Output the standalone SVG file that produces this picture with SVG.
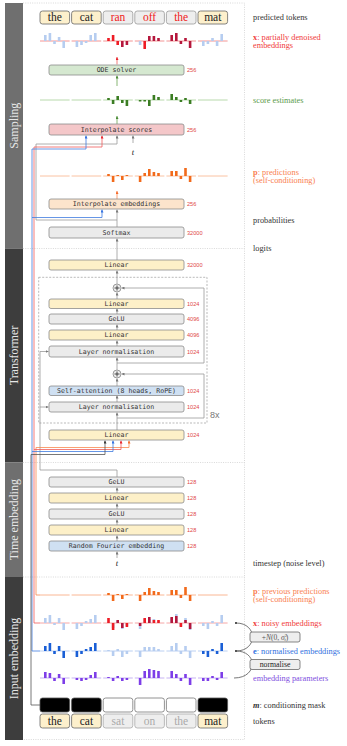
<svg xmlns="http://www.w3.org/2000/svg" width="347" height="746" viewBox="0 0 347 746">
<style>
.box{stroke:#8c8c8c;stroke-width:0.8}
.bt{font-family:"DejaVu Sans Mono","Liberation Mono",monospace;font-size:6.6px;fill:#333;text-anchor:middle}
.num{font-family:"Liberation Sans",sans-serif;font-size:5.6px;fill:#e04848}
.lbl{font-family:"Liberation Serif",serif;font-size:8.3px}
.tok{font-family:"Liberation Serif",serif;font-size:11.5px;text-anchor:middle}
.sec{font-family:"Liberation Serif",serif;font-size:12px;fill:#e6e6e6;text-anchor:middle}
.lin{fill:#fdf0c8}.gry{fill:#ebebeb}.blu{fill:#cfe0f2}
.c{fill:none;stroke-width:0.8}
.lb{fill:#b6cdf0}.rd{fill:#ee1c25}.cr{fill:#b5173c}.dg{fill:#3b7d23}.or{fill:#f26a1b}.bl{fill:#1a5fd6}.pu{fill:#7d3ee8}
</style>
<defs>
<marker id="ag" viewBox="0 0 4 4" refX="4" refY="2" markerWidth="3" markerHeight="3" markerUnits="userSpaceOnUse" orient="auto"><path d="M0,0 L4,2 L0,4 z" fill="#777"/></marker>
<marker id="ar" viewBox="0 0 4 4" refX="4" refY="2" markerWidth="3" markerHeight="3" markerUnits="userSpaceOnUse" orient="auto"><path d="M0,0 L4,2 L0,4 z" fill="#e8232b"/></marker>
<marker id="ab" viewBox="0 0 4 4" refX="4" refY="2" markerWidth="3" markerHeight="3" markerUnits="userSpaceOnUse" orient="auto"><path d="M0,0 L4,2 L0,4 z" fill="#2f6fe0"/></marker>
<marker id="ao" viewBox="0 0 4 4" refX="4" refY="2" markerWidth="3" markerHeight="3" markerUnits="userSpaceOnUse" orient="auto"><path d="M0,0 L4,2 L0,4 z" fill="#f56a2a"/></marker>
<marker id="ad" viewBox="0 0 4 4" refX="4" refY="2" markerWidth="3" markerHeight="3" markerUnits="userSpaceOnUse" orient="auto"><path d="M0,0 L4,2 L0,4 z" fill="#333"/></marker>
<marker id="an" viewBox="0 0 4 4" refX="4" refY="2" markerWidth="3" markerHeight="3" markerUnits="userSpaceOnUse" orient="auto"><path d="M0,0 L4,2 L0,4 z" fill="#4a8a36"/></marker>
<marker id="dot" viewBox="0 0 4 4" refX="2" refY="2" markerWidth="2.6" markerHeight="2.6" markerUnits="userSpaceOnUse"><circle cx="2" cy="2" r="2" fill="#555"/></marker>
</defs>
<rect width="347" height="746" fill="#fff"/>

<!-- side bands -->
<g id="bands">
<rect x="5" y="3" width="18" height="245.5" fill="#6f6f6f"/>
<rect x="5" y="248.5" width="18" height="214" fill="#3d3d3d"/>
<rect x="5" y="462.5" width="18" height="114.5" fill="#6f6f6f"/>
<rect x="5" y="577" width="18" height="163" fill="#3d3d3d"/>
<text class="sec" transform="translate(18.2,125.7) rotate(-90)">Sampling</text>
<text class="sec" transform="translate(18.2,355.5) rotate(-90)">Transformer</text>
<text class="sec" transform="translate(18.2,519.7) rotate(-90)">Time embedding</text>
<text class="sec" transform="translate(18.2,658.5) rotate(-90)">Input embedding</text>
</g>

<!-- frame -->
<g fill="none" stroke="#c8c8c8" stroke-width="0.7" stroke-dasharray="1 1.3">
<path d="M23,3 H244.5 V739.5 H23"/>
<path d="M23,248.5 H244.5 M23,462.5 H244.5 M23,577 H244.5"/>
</g>

<!-- connectors -->
<g id="connectors">
<path class="c" stroke="#f05a5a" d="M117,64.5 V57" marker-end="url(#ar)"/>
<path class="c" stroke="#6aa352" d="M117,86 V75.5" marker-end="url(#an)"/>
<path class="c" stroke="#6aa352" d="M117,124 V116" marker-end="url(#an)"/>
<path class="c" stroke="#f8894f" d="M117,199 V191" marker-end="url(#ao)"/>
<path class="c" stroke="#999" d="M133,143 V135.5" marker-end="url(#ag)"/>
<path class="c" stroke="#999" d="M117,220 H36 V144 H117 V135.5" marker-end="url(#ag)"/>
<path class="c" stroke="#999" d="M117,227 V209.5" marker-end="url(#ag)"/>
<path class="c" stroke="#f05a5a" d="M40,623 H34 V147 H102 V135.5" marker-end="url(#ar)"/>
<path class="c" stroke="#3f7be0" d="M40,651 H32 V149 H86 V135.5" marker-end="url(#ab)"/>
<path class="c" stroke="#3f7be0" d="M32,217.5 H102 V209.5" marker-end="url(#ab)"/>
<path class="c" stroke="#999" d="M117,260 V238.5" marker-end="url(#ag)"/>
<path class="c" stroke="#999" d="M117,283.8 V270.5" marker-end="url(#ag)"/>
<path class="c" stroke="#999" d="M117,299 V292.5" marker-end="url(#ag)"/>
<path class="c" stroke="#999" d="M117,314 V308.5" marker-end="url(#ag)"/>
<path class="c" stroke="#999" d="M117,330 V324.5" marker-end="url(#ag)"/>
<path class="c" stroke="#999" d="M117,346 V340.5" marker-end="url(#ag)"/>
<path class="c" stroke="#999" d="M117,369.8 V357.5" marker-end="url(#ag)"/>
<path class="c" stroke="#999" d="M117,386 V378.5" marker-end="url(#ag)"/>
<path class="c" stroke="#999" d="M117,402 V395.5" marker-end="url(#ag)"/>
<path class="c" stroke="#999" d="M117,430 V412.5" marker-end="url(#ag)"/>
<path class="c" stroke="#999" d="M117,363 H204 V288 H121.5" marker-end="url(#ag)"/>
<path class="c" stroke="#999" d="M117,418 H204 V374 H121.5" marker-end="url(#ag)"/>
<path class="c" stroke="#999" d="M117,477 V470 H40 V351.5 H48.5" marker-end="url(#ag)"/>
<path class="c" stroke="#999" d="M40,407 H48.5" marker-end="url(#ag)"/>
<path class="c" stroke="#f8894f" d="M40,595 H36 V447.5 H129 V440.5" marker-end="url(#ao)"/>
<path class="c" stroke="#f05a5a" d="M34,449.5 H121 V440.5" marker-end="url(#ar)"/>
<path class="c" stroke="#3f7be0" d="M32,451.5 H113 V440.5" marker-end="url(#ab)"/>
<path class="c" stroke="#555" d="M40,705 H31 V454.5 H105 V440.5" marker-end="url(#ad)"/>
<path class="c" stroke="#999" d="M117,493 V487.5" marker-end="url(#ag)"/>
<path class="c" stroke="#999" d="M117,509 V503.5" marker-end="url(#ag)"/>
<path class="c" stroke="#999" d="M117,525 V519.5" marker-end="url(#ag)"/>
<path class="c" stroke="#999" d="M117,541 V535.5" marker-end="url(#ag)"/>
<path class="c" stroke="#999" d="M117,558 V551.5" marker-end="url(#ag)"/>
<path class="c" stroke="#555" d="M234,678 C258,678 258,651 236,651" marker-end="url(#dot)"/>
<path class="c" stroke="#555" d="M236,651 C258,651 258,623 236,623" marker-end="url(#dot)"/>
</g>

<!-- transformer block -->
<rect x="38.7" y="277.3" width="168.3" height="145.7" fill="none" stroke="#8c8c8c" stroke-width="0.6" stroke-dasharray="2 1.5"/>
<text x="210" y="418" font-family="Liberation Sans,sans-serif" font-size="9" fill="#777">8x</text>
<g id="plus1"><circle cx="117" cy="288" r="4" fill="#eee" stroke="#777" stroke-width="0.7"/><path d="M114.5,288 H119.5 M117,285.5 V290.5" stroke="#333" stroke-width="0.9"/></g>
<g id="plus2"><circle cx="117" cy="374" r="4" fill="#eee" stroke="#777" stroke-width="0.7"/><path d="M114.5,374 H119.5 M117,371.5 V376.5" stroke="#333" stroke-width="0.9"/></g>

<!-- boxes -->
<g id="ode"><rect class="box" x="49" y="65" width="135" height="10" rx="2" fill="#d5e8d0"/><text class="bt" x="116.5" y="72.3">ODE solver</text><text class="num" x="187" y="72">256</text></g>
<g id="interp-scores"><rect class="box" x="49" y="124" width="135" height="11" rx="2" fill="#f4c7c9"/><text class="bt" x="116.5" y="131.8">Interpolate scores</text><text class="num" x="187" y="131.5">256</text></g>
<g id="interp-emb"><rect class="box" x="49" y="199" width="135" height="10" rx="2" fill="#fce4cc"/><text class="bt" x="116.5" y="206.3">Interpolate embeddings</text><text class="num" x="187" y="206">256</text></g>
<g id="softmax"><rect class="box gry" x="49" y="227" width="135" height="11" rx="2"/><text class="bt" x="116.5" y="234.8">Softmax</text><text class="num" x="187" y="234.5">32000</text></g>
<g id="linear-out"><rect class="box lin" x="49" y="260" width="135" height="10" rx="2"/><text class="bt" x="116.5" y="267.3">Linear</text><text class="num" x="187" y="267">32000</text></g>
<g id="ff-linear2"><rect class="box lin" x="49" y="299" width="135" height="9.5" rx="2"/><text class="bt" x="116.5" y="306">Linear</text><text class="num" x="187" y="305.8">1024</text></g>
<g id="ff-gelu"><rect class="box gry" x="49" y="314" width="135" height="10" rx="2"/><text class="bt" x="116.5" y="321.3">GeLU</text><text class="num" x="187" y="321">4096</text></g>
<g id="ff-linear1"><rect class="box lin" x="49" y="330" width="135" height="10" rx="2"/><text class="bt" x="116.5" y="337.3">Linear</text><text class="num" x="187" y="337">4096</text></g>
<g id="ln2"><rect class="box gry" x="49" y="346" width="135" height="11" rx="2"/><text class="bt" x="116.5" y="353.8">Layer normalisation</text><text class="num" x="187" y="353.5">1024</text></g>
<g id="attn"><rect class="box blu" x="49" y="386" width="135" height="9.5" rx="2"/><text class="bt" x="116.5" y="393">Self-attention (8 heads, RoPE)</text><text class="num" x="187" y="392.8">1024</text></g>
<g id="ln1"><rect class="box gry" x="49" y="402" width="135" height="10" rx="2"/><text class="bt" x="116.5" y="409.3">Layer normalisation</text><text class="num" x="187" y="409">1024</text></g>
<g id="linear-in"><rect class="box lin" x="49" y="430" width="135" height="10" rx="2"/><text class="bt" x="116.5" y="437.3">Linear</text><text class="num" x="187" y="437">1024</text></g>
<g id="t-gelu2"><rect class="box gry" x="49" y="477" width="135" height="10" rx="2"/><text class="bt" x="116.5" y="484.3">GeLU</text><text class="num" x="187" y="484">128</text></g>
<g id="t-linear2"><rect class="box lin" x="49" y="493" width="135" height="10" rx="2"/><text class="bt" x="116.5" y="500.3">Linear</text><text class="num" x="187" y="500">128</text></g>
<g id="t-gelu1"><rect class="box gry" x="49" y="509" width="135" height="10" rx="2"/><text class="bt" x="116.5" y="516.3">GeLU</text><text class="num" x="187" y="516">128</text></g>
<g id="t-linear1"><rect class="box lin" x="49" y="525" width="135" height="10" rx="2"/><text class="bt" x="116.5" y="532.3">Linear</text><text class="num" x="187" y="532">128</text></g>
<g id="rfe"><rect class="box blu" x="49" y="541" width="135" height="10" rx="2"/><text class="bt" x="116.5" y="548.3">Random Fourier embedding</text><text class="num" x="187" y="548">128</text></g>

<text x="133" y="155" font-family="Liberation Serif,serif" font-style="italic" font-size="8.5" text-anchor="middle" fill="#222">t</text>
<text x="117" y="566" font-family="Liberation Serif,serif" font-style="italic" font-size="8.5" text-anchor="middle" fill="#222">t</text>

<!-- top predicted tokens -->
<g id="pred-tokens">
<rect x="40" y="11" width="29.6" height="13" rx="2.5" fill="#fdf0cc" stroke="#666" stroke-width="0.8"/>
<rect x="71.6" y="11" width="29.6" height="13" rx="2.5" fill="#fdf0cc" stroke="#666" stroke-width="0.8"/>
<rect x="103.2" y="11" width="29.6" height="13" rx="2.5" fill="#eee" stroke="#999" stroke-width="0.8"/>
<rect x="134.8" y="11" width="29.6" height="13" rx="2.5" fill="#eee" stroke="#999" stroke-width="0.8"/>
<rect x="166.4" y="11" width="29.6" height="13" rx="2.5" fill="#eee" stroke="#999" stroke-width="0.8"/>
<rect x="198" y="11" width="29.6" height="13" rx="2.5" fill="#fdf0cc" stroke="#666" stroke-width="0.8"/>
<text class="tok" x="54.8" y="21.3" fill="#222">the</text>
<text class="tok" x="86.4" y="21.3" fill="#222">cat</text>
<text class="tok" x="118" y="21.3" fill="#f02020">ran</text>
<text class="tok" x="149.6" y="21.3" fill="#f02020">off</text>
<text class="tok" x="181.2" y="21.3" fill="#f02020">the</text>
<text class="tok" x="212.8" y="21.3" fill="#222">mat</text>
</g>

<!-- row: partially denoised x -->
<g id="row-x-top">
<path d="M40,41H69.6M71.6,41H101.2M103.2,41H132.8M134.8,41H164.4M166.4,41H196M198,41H227.6" stroke="#f07878" stroke-width="0.8"/>
<g class="lb"><rect x="44" y="35" width="2.6" height="6"/><rect x="48.6" y="33" width="2.6" height="8"/><rect x="53.2" y="41" width="2.6" height="3"/><rect x="57.8" y="37" width="2.6" height="4"/><rect x="62.4" y="41" width="2.6" height="7"/>
<rect x="75.6" y="41" width="2.6" height="6"/><rect x="80.2" y="41" width="2.6" height="4"/><rect x="84.8" y="41" width="2.6" height="2"/><rect x="89.4" y="35" width="2.6" height="6"/><rect x="94" y="33" width="2.6" height="8"/>
<rect x="138.8" y="41" width="2.6" height="4"/>
<rect x="202" y="41" width="2.6" height="5"/><rect x="206.6" y="41" width="2.6" height="3"/><rect x="211.2" y="38" width="2.6" height="3"/><rect x="215.8" y="41" width="2.6" height="5"/><rect x="220.4" y="34" width="2.6" height="7"/></g>
<g class="rd"><rect x="107.2" y="38" width="2.6" height="3"/><rect x="111.8" y="35" width="2.6" height="6"/><rect x="116.4" y="41" width="2.6" height="4"/><rect x="143.4" y="41" width="2.6" height="8"/></g>
<g class="cr"><rect x="121" y="41" width="2.6" height="6"/><rect x="125.6" y="41" width="2.6" height="4"/>
<rect x="148" y="36" width="2.6" height="5"/><rect x="152.6" y="36" width="2.6" height="5"/><rect x="157.2" y="38" width="2.6" height="3"/>
<rect x="170.4" y="35" width="2.6" height="6"/><rect x="175" y="33" width="2.6" height="8"/><rect x="179.6" y="41" width="2.6" height="3"/><rect x="184.2" y="38" width="2.6" height="3"/><rect x="188.8" y="41" width="2.6" height="7"/></g>
</g>

<!-- row: score estimates -->
<g id="row-scores">
<path d="M40,100H69.6M71.6,100H101.2M103.2,100H132.8M134.8,100H164.4M166.4,100H196M198,100H227.6" stroke="#a6cf98" stroke-width="0.8"/>
<g class="dg"><rect x="107.2" y="98" width="2.6" height="2"/><rect x="111.8" y="100" width="2.6" height="4"/><rect x="116.4" y="96" width="2.6" height="4"/><rect x="121" y="100" width="2.6" height="3"/><rect x="125.6" y="100" width="2.6" height="6"/>
<rect x="138.8" y="100" width="2.6" height="1.5"/><rect x="143.4" y="100" width="2.6" height="1.5"/><rect x="148" y="100" width="2.6" height="6"/><rect x="152.6" y="95" width="2.6" height="5"/><rect x="157.2" y="97" width="2.6" height="3"/>
<rect x="170.4" y="94" width="2.6" height="6"/><rect x="175" y="97" width="2.6" height="3"/><rect x="179.6" y="100" width="2.6" height="2"/><rect x="184.2" y="98" width="2.6" height="2"/><rect x="188.8" y="100" width="2.6" height="4"/></g>
</g>

<!-- row: predictions p -->
<g id="row-p-top">
<path d="M40,176H69.6M71.6,176H101.2M103.2,176H132.8M134.8,176H164.4M166.4,176H196M198,176H227.6" stroke="#f9b38c" stroke-width="0.8"/>
<g class="or"><rect x="107.2" y="174" width="2.6" height="2"/><rect x="111.8" y="176" width="2.6" height="6"/><rect x="116.4" y="175" width="2.6" height="1"/><rect x="121" y="176" width="2.6" height="4"/><rect x="125.6" y="175" width="2.6" height="1"/>
<rect x="138.8" y="176" width="2.6" height="6"/><rect x="143.4" y="173" width="2.6" height="3"/><rect x="148" y="169" width="2.6" height="7"/><rect x="152.6" y="172" width="2.6" height="4"/><rect x="157.2" y="173" width="2.6" height="3"/>
<rect x="170.4" y="171" width="2.6" height="5"/><rect x="175" y="171" width="2.6" height="5"/><rect x="179.6" y="176" width="2.6" height="3"/><rect x="184.2" y="168" width="2.6" height="8"/><rect x="188.8" y="176" width="2.6" height="6"/></g>
</g>

<!-- row: previous predictions p -->
<g id="row-p-bottom">
<path d="M40,595H69.6M71.6,595H101.2M103.2,595H132.8M134.8,595H164.4M166.4,595H196M198,595H227.6" stroke="#f9a57a" stroke-width="0.8"/>
<g class="or"><rect x="107.2" y="593" width="2.6" height="2"/><rect x="111.8" y="595" width="2.6" height="6"/><rect x="116.4" y="594" width="2.6" height="1"/><rect x="121" y="595" width="2.6" height="4"/><rect x="125.6" y="594" width="2.6" height="1"/>
<rect x="138.8" y="595" width="2.6" height="6"/><rect x="143.4" y="592" width="2.6" height="3"/><rect x="148" y="588" width="2.6" height="7"/><rect x="152.6" y="591" width="2.6" height="4"/><rect x="157.2" y="592" width="2.6" height="3"/>
<rect x="170.4" y="590" width="2.6" height="5"/><rect x="175" y="590" width="2.6" height="5"/><rect x="179.6" y="595" width="2.6" height="3"/><rect x="184.2" y="587" width="2.6" height="8"/><rect x="188.8" y="595" width="2.6" height="6"/></g>
</g>

<!-- row: noisy x -->
<g id="row-x-noisy">
<path d="M40,623H69.6M71.6,623H101.2M103.2,623H132.8M134.8,623H164.4M166.4,623H196M198,623H227.6" stroke="#f49090" stroke-width="0.8"/>
<g class="lb"><rect x="44" y="618" width="2.6" height="5"/><rect x="48.6" y="615" width="2.6" height="8"/><rect x="53.2" y="623" width="2.6" height="2"/><rect x="57.8" y="618" width="2.6" height="5"/><rect x="62.4" y="623" width="2.6" height="7"/>
<rect x="75.6" y="623" width="2.6" height="6"/><rect x="80.2" y="623" width="2.6" height="3"/><rect x="84.8" y="621" width="2.6" height="2"/><rect x="89.4" y="619" width="2.6" height="4"/><rect x="94" y="615" width="2.6" height="8"/>
<rect x="107.2" y="622" width="2.6" height="1"/><rect x="111.8" y="623" width="2.6" height="5"/><rect x="116.4" y="621" width="2.6" height="2"/><rect x="121" y="623" width="2.6" height="6"/><rect x="125.6" y="623" width="2.6" height="3"/>
<rect x="138.8" y="623" width="2.6" height="6"/><rect x="143.4" y="619" width="2.6" height="4"/><rect x="148" y="619" width="2.6" height="4"/><rect x="152.6" y="619" width="2.6" height="4"/><rect x="157.2" y="621" width="2.6" height="2"/>
<rect x="170.4" y="618" width="2.6" height="5"/><rect x="175" y="614" width="2.6" height="9"/><rect x="179.6" y="623" width="2.6" height="3"/><rect x="184.2" y="618" width="2.6" height="5"/><rect x="188.8" y="623" width="2.6" height="7"/>
<rect x="202" y="623" width="2.6" height="3"/><rect x="206.6" y="623" width="2.6" height="6"/><rect x="211.2" y="621" width="2.6" height="2"/><rect x="215.8" y="623" width="2.6" height="3"/><rect x="220.4" y="615" width="2.6" height="8"/></g>
<g class="rd"><rect x="107.2" y="618" width="2.6" height="5"/><rect x="111.8" y="623" width="2.6" height="7"/><rect x="125.6" y="623" width="2.6" height="4"/>
<rect x="143.4" y="618" width="2.6" height="5"/><rect x="152.6" y="620" width="2.6" height="3"/><rect x="157.2" y="620" width="2.6" height="3"/>
<rect x="179.6" y="623" width="2.6" height="4"/></g>
<g class="cr"><rect x="116.4" y="620" width="2.6" height="3"/><rect x="121" y="623" width="2.6" height="5"/>
<rect x="138.8" y="623" width="2.6" height="3"/><rect x="148" y="617" width="2.6" height="6"/>
<rect x="170.4" y="617" width="2.6" height="6"/><rect x="175" y="616" width="2.6" height="7"/><rect x="184.2" y="620" width="2.6" height="3"/><rect x="188.8" y="623" width="2.6" height="6"/></g>
</g>

<!-- row: normalised e -->
<g id="row-e">
<path d="M40,651H69.6M71.6,651H101.2M103.2,651H132.8M134.8,651H164.4M166.4,651H196M198,651H227.6" stroke="#a9c4ef" stroke-width="0.8"/>
<g class="bl"><rect x="44" y="646" width="2.6" height="5"/><rect x="48.6" y="643" width="2.6" height="8"/><rect x="53.2" y="651" width="2.6" height="3"/><rect x="57.8" y="646" width="2.6" height="5"/><rect x="62.4" y="651" width="2.6" height="7"/>
<rect x="75.6" y="651" width="2.6" height="6"/><rect x="80.2" y="651" width="2.6" height="3"/><rect x="84.8" y="649" width="2.6" height="2"/><rect x="89.4" y="647" width="2.6" height="4"/><rect x="94" y="643" width="2.6" height="8"/>
<rect x="202" y="651" width="2.6" height="3"/><rect x="206.6" y="651" width="2.6" height="6"/><rect x="211.2" y="649" width="2.6" height="2"/><rect x="215.8" y="651" width="2.6" height="3"/><rect x="220.4" y="643" width="2.6" height="8"/></g>
<g class="lb"><rect x="107.2" y="650" width="2.6" height="1"/><rect x="111.8" y="651" width="2.6" height="5"/><rect x="116.4" y="649" width="2.6" height="2"/><rect x="121" y="651" width="2.6" height="6"/><rect x="125.6" y="651" width="2.6" height="3"/>
<rect x="138.8" y="651" width="2.6" height="6"/><rect x="143.4" y="647" width="2.6" height="4"/><rect x="148" y="647" width="2.6" height="4"/><rect x="152.6" y="647" width="2.6" height="4"/><rect x="157.2" y="649" width="2.6" height="2"/>
<rect x="170.4" y="646" width="2.6" height="5"/><rect x="175" y="643" width="2.6" height="8"/><rect x="179.6" y="651" width="2.6" height="3"/><rect x="184.2" y="646" width="2.6" height="5"/><rect x="188.8" y="651" width="2.6" height="7"/></g>
</g>

<!-- row: embedding parameters -->
<g id="row-params">
<path d="M40,678H69.6M71.6,678H101.2M103.2,678H132.8M134.8,678H164.4M166.4,678H196M198,678H227.6" stroke="#b9a0f0" stroke-width="0.8"/>
<g class="pu"><rect x="44" y="672" width="2.6" height="6"/><rect x="48.6" y="673" width="2.6" height="5"/><rect x="53.2" y="678" width="2.6" height="3"/><rect x="57.8" y="674" width="2.6" height="4"/><rect x="62.4" y="678" width="2.6" height="6"/>
<rect x="75.6" y="678" width="2.6" height="2"/><rect x="80.2" y="678" width="2.6" height="3"/><rect x="84.8" y="678" width="2.6" height="2"/><rect x="89.4" y="675" width="2.6" height="3"/><rect x="94" y="672" width="2.6" height="6"/>
<rect x="107.2" y="677" width="2.6" height="1"/><rect x="111.8" y="678" width="2.6" height="3"/><rect x="116.4" y="676" width="2.6" height="2"/><rect x="121" y="678" width="2.6" height="3"/><rect x="125.6" y="678" width="2.6" height="2"/>
<rect x="138.8" y="678" width="2.6" height="7"/><rect x="143.4" y="671" width="2.6" height="7"/><rect x="148" y="669" width="2.6" height="9"/><rect x="152.6" y="670" width="2.6" height="8"/><rect x="157.2" y="671" width="2.6" height="7"/>
<rect x="170.4" y="671" width="2.6" height="7"/><rect x="175" y="674" width="2.6" height="4"/><rect x="179.6" y="678" width="2.6" height="3"/><rect x="184.2" y="674" width="2.6" height="4"/><rect x="188.8" y="678" width="2.6" height="7"/>
<rect x="202" y="678" width="2.6" height="3"/><rect x="206.6" y="678" width="2.6" height="3"/><rect x="211.2" y="676" width="2.6" height="2"/><rect x="215.8" y="678" width="2.6" height="2"/><rect x="220.4" y="672" width="2.6" height="6"/></g>
</g>

<!-- noise / normalise boxes -->
<g id="noise"><rect x="250" y="632" width="50" height="10" rx="2" fill="#eee" stroke="#555" stroke-width="0.7"/>
<text x="275" y="639.6" font-family="Liberation Serif,serif" font-size="7.5" text-anchor="middle" fill="#555">+<tspan font-style="italic">N</tspan>(0, <tspan font-style="italic">σ</tspan><tspan font-size="4.5" dy="-2.8">2</tspan><tspan font-size="4.5" font-style="italic" dx="-2.4" dy="4.6">t</tspan><tspan dy="-1.8">)</tspan></text></g>
<g id="normalise"><rect x="250" y="659.5" width="50" height="10" rx="2" fill="#eee" stroke="#555" stroke-width="0.7"/>
<text x="275" y="667" font-family="Liberation Serif,serif" font-size="7.8" text-anchor="middle" fill="#222">normalise</text></g>

<!-- mask -->
<g id="mask">
<rect x="40" y="698" width="29.6" height="14" rx="2.5" fill="#000" stroke="#555" stroke-width="0.8"/>
<rect x="71.6" y="698" width="29.6" height="14" rx="2.5" fill="#000" stroke="#555" stroke-width="0.8"/>
<rect x="103.2" y="698" width="29.6" height="14" rx="2.5" fill="#fff" stroke="#777" stroke-width="0.8"/>
<rect x="134.8" y="698" width="29.6" height="14" rx="2.5" fill="#fff" stroke="#777" stroke-width="0.8"/>
<rect x="166.4" y="698" width="29.6" height="14" rx="2.5" fill="#fff" stroke="#777" stroke-width="0.8"/>
<rect x="198" y="698" width="29.6" height="14" rx="2.5" fill="#000" stroke="#555" stroke-width="0.8"/>
</g>
<g id="tokens">
<rect x="40" y="714" width="29.6" height="14" rx="2.5" fill="#fdf0cc" stroke="#666" stroke-width="0.8"/>
<rect x="71.6" y="714" width="29.6" height="14" rx="2.5" fill="#fdf0cc" stroke="#666" stroke-width="0.8"/>
<rect x="103.2" y="714" width="29.6" height="14" rx="2.5" fill="#eee" stroke="#aaa" stroke-width="0.8"/>
<rect x="134.8" y="714" width="29.6" height="14" rx="2.5" fill="#eee" stroke="#aaa" stroke-width="0.8"/>
<rect x="166.4" y="714" width="29.6" height="14" rx="2.5" fill="#eee" stroke="#aaa" stroke-width="0.8"/>
<rect x="198" y="714" width="29.6" height="14" rx="2.5" fill="#fdf0cc" stroke="#666" stroke-width="0.8"/>
<text class="tok" x="54.8" y="724.8" fill="#222">the</text>
<text class="tok" x="86.4" y="724.8" fill="#222">cat</text>
<text class="tok" x="118" y="724.8" fill="#aaa">sat</text>
<text class="tok" x="149.6" y="724.8" fill="#aaa">on</text>
<text class="tok" x="181.2" y="724.8" fill="#aaa">the</text>
<text class="tok" x="212.8" y="724.8" fill="#222">mat</text>
</g>

<!-- right labels -->
<g id="labels">
<text class="lbl" x="253" y="20" fill="#333">predicted tokens</text>
<text class="lbl" x="253" y="40" fill="#f03a3a"><tspan font-weight="bold">x</tspan>: partially denoised</text>
<text class="lbl" x="253" y="47.5" fill="#f03a3a">embeddings</text>
<text class="lbl" x="253" y="102.5" fill="#5a9a4a">score estimates</text>
<text class="lbl" x="253" y="175" fill="#f98050"><tspan font-weight="bold">p</tspan>: predictions</text>
<text class="lbl" x="253" y="183" fill="#f98050">(self-conditioning)</text>
<text class="lbl" x="253" y="222.5" fill="#333">probabilities</text>
<text class="lbl" x="253" y="251" fill="#333">logits</text>
<text class="lbl" x="253" y="566" fill="#333">timestep (noise level)</text>
<text class="lbl" x="253" y="594" fill="#f98050"><tspan font-weight="bold">p</tspan>: previous predictions</text>
<text class="lbl" x="253" y="601.5" fill="#f98050">(self-conditioning)</text>
<text class="lbl" x="253" y="626" fill="#f03a3a"><tspan font-weight="bold">x</tspan>: noisy embeddings</text>
<text class="lbl" x="253" y="653.5" fill="#3070e0"><tspan font-weight="bold">e</tspan>: normalised embeddings</text>
<text class="lbl" x="253" y="681" fill="#8050e0">embedding parameters</text>
<text class="lbl" x="253" y="708" fill="#333"><tspan font-weight="bold" font-style="italic">m</tspan>: conditioning mask</text>
<text class="lbl" x="253" y="723.5" fill="#333">tokens</text>
</g>
</svg>
